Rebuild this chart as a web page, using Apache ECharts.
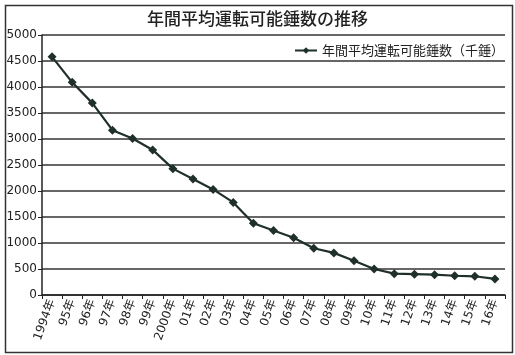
<!DOCTYPE html>
<html><head><meta charset="utf-8">
<script src="https://cdn.jsdelivr.net/npm/echarts@6/dist/echarts.min.js"></script>
<style>html,body{margin:0;padding:0;background:#fff}#c{width:515px;height:355px}</style>
</head><body><div id="c"></div>
<script>
const categories = ["1994年","95年","96年","97年","98年","99年","2000年","01年","02年","03年","04年","05年","06年","07年","08年","09年","10年","11年","12年","13年","14年","15年","16年"];
const spindles = [4580,4090,3690,3170,3010,2790,2430,2230,2030,1780,1380,1240,1100,900,810,660,500,410,400,390,370,360,310];
const seriesName = "年間平均運転可能錘数（千錘）";
const titleText = "年間平均運転可能錘数の推移";
const FONT = '"DejaVu Sans","Noto Sans CJK JP",sans-serif';
const chart = echarts.init(document.getElementById('c'));
chart.setOption({
  animation:false,
  backgroundColor:'#fff',
  title:{text:titleText,left:'center',top:5,textStyle:{fontFamily:'"Noto Sans CJK JP",sans-serif',fontSize:17,fontWeight:500,color:'#222'}},
  legend:{data:[seriesName],right:6,top:39,itemWidth:22,itemHeight:8,itemGap:4,
    textStyle:{fontFamily:'"Noto Sans CJK JP",sans-serif',fontSize:13,color:'#222'}},
  graphic:[{type:'rect',left:3,top:3,shape:{width:507,height:347},style:{fill:null,stroke:'#333',lineWidth:1.5},silent:true}],
  grid:{left:42,right:10,top:35,bottom:60,containLabel:false},
  xAxis:{type:'category',data:categories,boundaryGap:true,
    axisLine:{lineStyle:{color:'#222',width:1.5}},
    axisTick:{show:true,alignWithLabel:false,length:4,lineStyle:{color:'#222'}},
    axisLabel:{rotate:70,interval:0,fontFamily:FONT,fontSize:12,color:'#222',margin:5}},
  yAxis:{type:'value',min:0,max:5000,interval:500,
    axisLine:{show:true,lineStyle:{color:'#222',width:1.5}},
    axisTick:{show:true,length:4,lineStyle:{color:'#222'}},
    axisLabel:{fontFamily:FONT,fontSize:12,color:'#222',margin:5,formatter:v=>String(v)},
    splitLine:{lineStyle:{color:'#333',width:1.5}}},
  series:[{name:seriesName,type:'line',data:spindles,symbol:'diamond',symbolSize:9,
    itemStyle:{color:'#1f302b'},lineStyle:{color:'#1f302b',width:2.2}}]
});
</script></body></html>
